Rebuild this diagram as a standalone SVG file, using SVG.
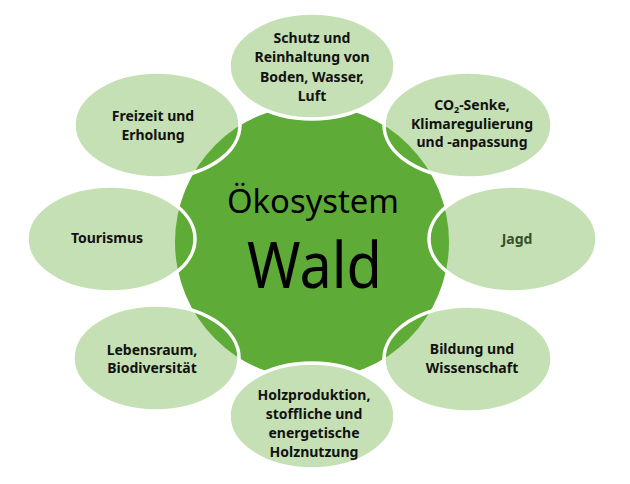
<svg xmlns="http://www.w3.org/2000/svg" width="630" height="484" viewBox="0 0 630 484">
<style>
.bub{fill:#c5e0b4;}
.ring{fill:none;stroke:#ffffff;stroke-width:3.5;}
.full{fill:#c5e0b4;stroke:#ffffff;stroke-width:3.5;}
.lbl{font-family:"Noto Sans","Open Sans","Liberation Sans",sans-serif;font-weight:700;font-size:14px;fill:#111111;text-anchor:middle;}
.core{font-family:"Noto Sans","Open Sans","Liberation Sans",sans-serif;fill:#000000;text-anchor:middle;}
</style>
<rect width="630" height="484" fill="#ffffff"/>
<g id="side-fills">
<ellipse class="bub" cx="468" cy="125" rx="84" ry="53"/>
<ellipse class="bub" cx="513" cy="239" rx="84" ry="53"/>
<ellipse class="bub" cx="468" cy="359" rx="84" ry="53"/>
<ellipse class="bub" cx="156" cy="358" rx="83" ry="53"/>
<ellipse class="bub" cx="111" cy="239" rx="84" ry="53"/>
<ellipse class="bub" cx="157" cy="125" rx="83" ry="53"/>
</g>
<g id="center">
<circle cx="312" cy="242" r="137" fill="#5fab37"/>
</g>
<g id="connectors"></g>
<g id="n-co2">
<ellipse class="ring" cx="468" cy="125" rx="84" ry="53"/>
<text class="lbl" x="472" y="109.5">CO<tspan font-size="9" baseline-shift="-2.5">2</tspan>-Senke,</text>
<text class="lbl"><tspan x="472" y="128.5">Klimaregulierung</tspan><tspan x="472" y="146.5">und -anpassung</tspan></text>
</g>
<g id="n-jagd">
<ellipse class="ring" cx="513" cy="239" rx="84" ry="53"/>
<text class="lbl" x="517" y="244" style="fill:#33502a">Jagd</text>
</g>
<g id="n-bildung">
<ellipse class="ring" cx="468" cy="359" rx="84" ry="53"/>
<text class="lbl"><tspan x="472" y="354">Bildung und</tspan><tspan x="472" y="373">Wissenschaft</tspan></text>
</g>
<g id="n-lebensraum">
<ellipse class="ring" cx="156" cy="358" rx="83" ry="53"/>
<text class="lbl"><tspan x="152" y="355">Lebensraum,</tspan><tspan x="152" y="373">Biodiversität</tspan></text>
</g>
<g id="n-tourismus">
<ellipse class="ring" cx="111" cy="239" rx="84" ry="53"/>
<text class="lbl" x="107" y="243">Tourismus</text>
</g>
<g id="n-freizeit">
<ellipse class="ring" cx="157" cy="125" rx="83" ry="53"/>
<text class="lbl"><tspan x="153" y="121">Freizeit und</tspan><tspan x="153" y="140">Erholung</tspan></text>
</g>
<g id="n-schutz">
<ellipse class="full" cx="312" cy="66" rx="83" ry="53"/>
<text class="lbl"><tspan x="312" y="43">Schutz und</tspan><tspan x="312" y="62">Reinhaltung von</tspan><tspan x="312" y="82">Boden, Wasser,</tspan><tspan x="312" y="101">Luft</tspan></text>
</g>
<g id="n-holz">
<ellipse class="full" cx="312" cy="416" rx="83" ry="53"/>
<text class="lbl"><tspan x="314" y="400">Holzproduktion,</tspan><tspan x="314" y="419">stoffliche und</tspan><tspan x="314" y="438">energetische</tspan><tspan x="314" y="457">Holznutzung</tspan></text>
</g>
<g id="n-center-label">
<text class="core" x="313" y="213" font-size="32" textLength="172" lengthAdjust="spacingAndGlyphs">Ökosystem</text>
<text class="core" x="314.5" y="288" font-size="64" textLength="135" lengthAdjust="spacingAndGlyphs">Wald</text>
</g>
</svg>
